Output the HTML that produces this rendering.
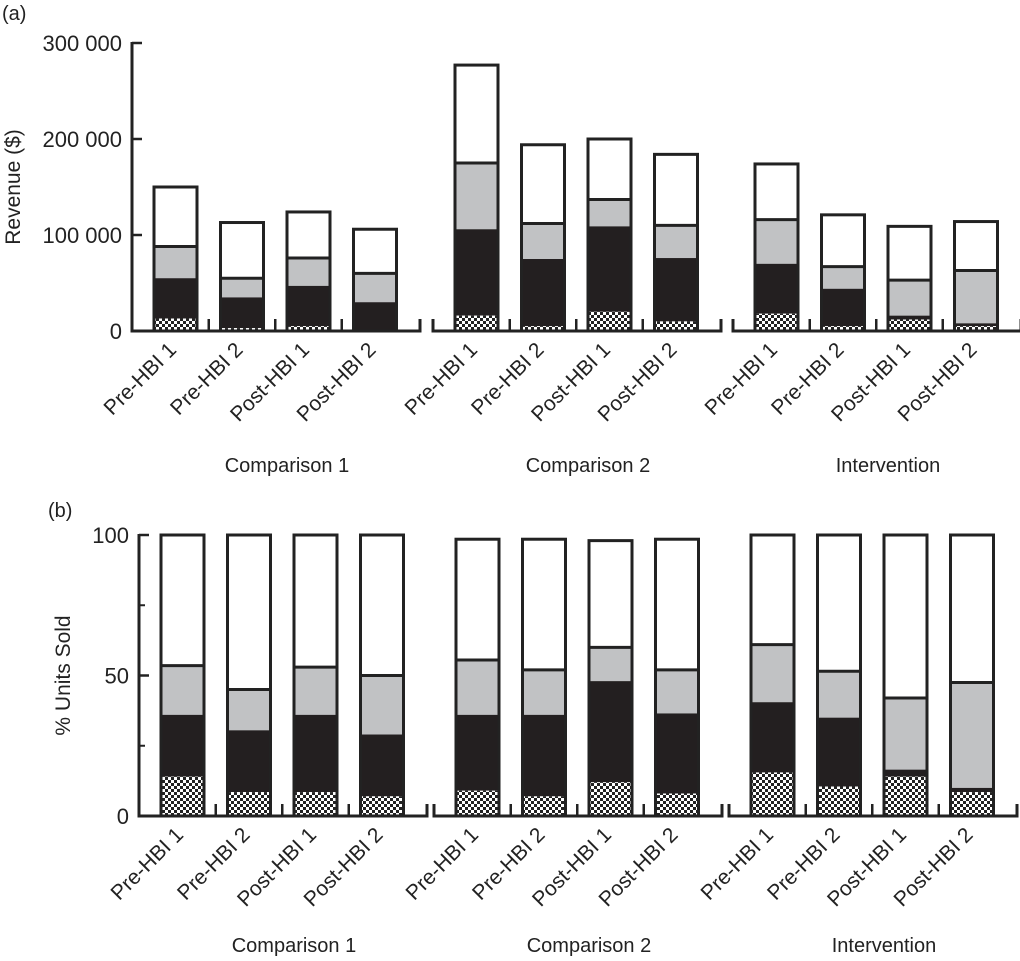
<!DOCTYPE html>
<html><head><meta charset="utf-8"><style>
body{margin:0;background:#fff}
svg{display:block;font-family:"Liberation Sans",sans-serif}
</style></head><body>
<svg id="c" width="1020" height="961" viewBox="0 0 1020 961">
<defs>
<pattern id="chk" width="6" height="6" patternUnits="userSpaceOnUse">
<rect width="6" height="6" fill="#fff"/><rect width="3" height="3" fill="#222"/><rect x="3" y="3" width="3" height="3" fill="#222"/>
</pattern>
</defs>
</svg>
<script>
const groups=["Comparison 1","Comparison 2","Intervention"];
const periods=["Pre-HBI 1","Pre-HBI 2","Post-HBI 1","Post-HBI 2"];
// panel a: cumulative tops [white, gray, black, checkered]
const revWhite=[150000,113000,124000,106000,277000,194000,200000,184000,174000,121000,109000,114000];
const revGray=[88000,55000,76000,60000,175000,112000,137000,110000,116000,67000,53000,63000];
const revBlack=[55000,35000,47000,30000,106000,75000,109000,76000,70000,44000,16000,8000];
const revCheck=[13000,3000,5000,1000,16000,5000,20000,10000,18000,5000,12000,5000];
const revTicks=[0,100000,200000,300000];
const revTickLabels=["0","100 000","200 000","300 000"];
// panel b
const pctWhite=[100,100,100,100,98.5,98.5,98,98.5,100,100,100,100];
const pctGray=[53.5,45,53,50,55.5,52,60,52,61,51.5,42,47.5];
const pctBlack=[36,30.5,36,29,36,36,48,36.5,40.5,35,16.5,10];
const pctCheck=[14,8.5,8.5,7,9,7,12,8,15.5,10.5,14,8.5];
const pctTicks=[0,50,100];
const pctMinor=[25,75];

const svg=document.getElementById('c');
const NS="http://www.w3.org/2000/svg";
function mk(tag,attrs,parent){const e=document.createElementNS(NS,tag);for(const k in attrs)e.setAttribute(k,attrs[k]);(parent||svg).appendChild(e);return e;}

function panel(cfg){
  const yS=v=>cfg.y0-(v-cfg.min)/(cfg.max-cfg.min)*(cfg.y0-cfg.y1);
  const g=mk('g',{});
  
  
  const ya=mk('line',{x1:cfg.starts[0],x2:cfg.starts[0],y1:yS(cfg.max)-1,y2:cfg.y0+1,stroke:'#222','stroke-width':3},g);
  
  
  cfg.ticks.forEach((t,i)=>{
    mk('line',{x1:cfg.starts[0],x2:cfg.starts[0]+10,y1:yS(t),y2:yS(t),stroke:'#222','stroke-width':2.5},g);
    const tx=mk('text',{x:cfg.starts[0]-10,y:yS(t)+8,'text-anchor':'end','font-size':22,fill:'#222'},g);
    tx.textContent=cfg.tickLabels[i];
    
    
  });
  (cfg.minor||[]).forEach(t=>mk('line',{x1:cfg.starts[0],x2:cfg.starts[0]+6,y1:yS(t),y2:yS(t),stroke:'#222','stroke-width':2},g));
  const yt=mk('text',{x:0,y:0,'text-anchor':'middle','font-size':21,fill:'#222',transform:`translate(${cfg.ytX},${(cfg.y0+yS(cfg.max))/2}) rotate(-90)`},g);
  yt.textContent=cfg.ytitle;
  
  
  const pl=mk('text',{x:cfg.plX,y:cfg.plY,'font-size':20,fill:'#222'},g);
  pl.textContent=cfg.label;
  
  
  groups.forEach((gn,gi)=>{
    const s=cfg.starts[gi];
    const xa=mk('path',{d:`M${s},${cfg.y0-12}V${cfg.y0}H${s+288}V${cfg.y0-12}`,fill:'none',stroke:'#222','stroke-width':3},g);
    
    
    for(let k=1;k<4;k++){const tx=s+22+43+(66.5-43)/2+66.5*(k-1);mk('line',{x1:tx,x2:tx,y1:cfg.y0,y2:cfg.y0-12,stroke:'#222','stroke-width':2.5},g);}
    periods.forEach((p,pi)=>{
      const i=gi*4+pi;
      const x=s+22+66.5*pi, w=43;
      const segs=[[cfg.white[i],cfg.gray[i],'#fff'],[cfg.gray[i],cfg.black[i],'#c1c2c4'],[cfg.black[i],cfg.check[i],'#231f20'],[cfg.check[i],0,'url(#chk)']];
      const names=['segment-other','segment-gray','segment-black','segment-checkered'];
      segs.forEach((sg,si)=>{
        const r=mk('rect',{x:x,y:yS(sg[0]),width:w,height:Math.max(0,yS(sg[1])-yS(sg[0])),fill:sg[2]},g);
        
        
      });
      mk('line',{x1:x,x2:x+w,y1:yS(cfg.gray[i]),y2:yS(cfg.gray[i]),stroke:'#222','stroke-width':3},g);
      const ob=mk('rect',{x:x,y:yS(cfg.white[i]),width:w,height:yS(0)-yS(cfg.white[i]),fill:'none',stroke:'#222','stroke-width':3},g);
      
      
      const cx=x+w/2+2, cy=cfg.y0+20;
      const lb=mk('text',{x:0,y:0,'text-anchor':'end','font-size':21,fill:'#222',transform:`translate(${cx},${cy}) rotate(-45)`},g);
      lb.textContent=p;
      
      
    });
    const gl=mk('text',{x:s+155,y:cfg.glY,'text-anchor':'middle','font-size':20,fill:'#222'},g);
    gl.textContent=gn;
    
    
  });
}
panel({name:'panel-a-revenue',starts:[132,433,733],y0:331,y1:43,min:0,max:300000,ticks:revTicks,tickLabels:revTickLabels,
  white:revWhite,gray:revGray,black:revBlack,check:revCheck,ytitle:'Revenue ($)',ytX:20,label:'(a)',plX:2,plY:20,glY:472});
panel({name:'panel-b-units',starts:[139,434,729],y0:816,y1:535,min:0,max:100,ticks:pctTicks,tickLabels:["0","50","100"],minor:pctMinor,
  white:pctWhite,gray:pctGray,black:pctBlack,check:pctCheck,ytitle:'% Units Sold',ytX:70,label:'(b)',plX:48,plY:517,glY:952});
</script>
</body></html>
